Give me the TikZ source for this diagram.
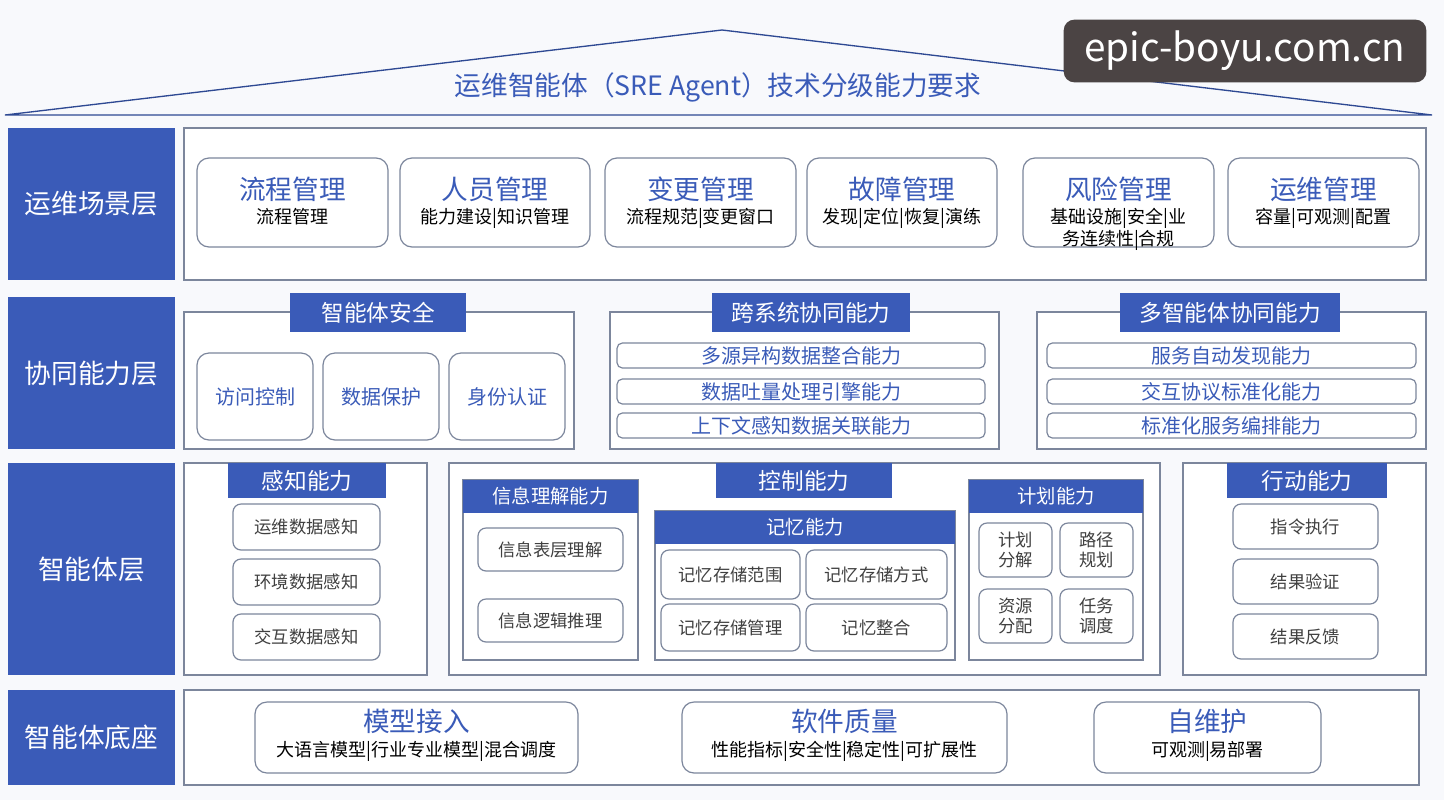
\documentclass[tikz,border=0pt]{standalone}
\usepackage{fontspec}
\setmainfont{Noto Sans CJK SC}
\usetikzlibrary{fit}
\definecolor{sreblue}{HTML}{3A5BB8}
\definecolor{sreline}{HTML}{7C869C}
\definecolor{srebg}{HTML}{F8F9FC}
\definecolor{srewm}{HTML}{4B4444}
\tikzset{layer/.style={fill=sreblue,draw=none,inner sep=0pt,text=white,font=\fontsize{20}{22}\selectfont}}
\tikzset{frame/.style={draw=sreline,line width=0.9pt,fill=white,inner sep=0pt}}
\tikzset{card/.style={draw=sreline,line width=0.9pt,fill=white,rounded corners=9pt,inner sep=0pt}}
\tikzset{pill/.style={draw=sreline,line width=0.9pt,fill=white,rounded corners=4pt,inner sep=0pt}}
\tikzset{tab/.style={fill=sreblue,draw=none,inner sep=0pt,text=white,font=\fontsize{17}{19}\selectfont}}
\tikzset{big/.style={font=\fontsize{20}{22}\selectfont,text=sreblue}}
\tikzset{small/.style={font=\fontsize{13.5}{16}\selectfont,align=center}}
\tikzset{mid/.style={font=\fontsize{15}{17}\selectfont,text=sreblue}}
\tikzset{item/.style={font=\fontsize{13}{15}\selectfont,text=black!75,align=center}}
\begin{document}
\begin{tikzpicture}[x=0.75pt,y=-0.75pt]
  \useasboundingbox[fill=srebg] (0,0) rectangle (1444,800);
  % roof and title
  \coordinate (roofl) at (5,115);
  \coordinate (rooft) at (722,30);
  \coordinate (roofr) at (1432,115);
  \draw[sreblue!80!black,line width=1pt] (roofl) -- (rooft) -- (roofr) -- cycle;
  \node[big,font=\fontsize{20}{22}\selectfont] (title) at (718,87) {运维智能体（SRE Agent）技术分级能力要求};
  \node[fill=srewm,rounded corners=8pt,inner sep=0pt,minimum width=272pt,minimum height=47pt,text=white,font=\fontsize{29}{31}\selectfont] (wm) at (1245,51) {epic-boyu.com.cn};
  % layer labels
  \node[layer,fit={(8,128)(175,280)}] (l1) {}; \node[text=white,font=\fontsize{20}{22}\selectfont] at (l1) {运维场景层};
  \node[layer,fit={(8,297)(175,449)}] (l2) {}; \node[text=white,font=\fontsize{20}{22}\selectfont] at (l2) {协同能力层};
  \node[layer,fit={(8,463)(175,675)}] (l3) {}; \node[text=white,font=\fontsize{20}{22}\selectfont] at (l3) {智能体层};
  \node[layer,fit={(8,690)(175,785)}] (l4) {}; \node[text=white,font=\fontsize{20}{22}\selectfont] at (l4) {智能体底座};
  % scene layer
  \node[frame,fit={(184,128)(1426,280)}] (scene) {};
  \foreach \xa/\xb/\ttl/\sub [count=\k] in {197/388/流程管理/流程管理, 400/590/人员管理/能力建设|知识管理,
      605/796/变更管理/流程规范|变更窗口, 807/997/故障管理/发现|定位|恢复|演练,
      1023/1214/风险管理/{基础设施|安全|业\\务连续性|合规}, 1228/1419/运维管理/容量|可观测|配置} {
    \node[card,fit={(\xa,158)(\xb,247)}] (s\k) {};
    \node[big,anchor=south] at ([yshift=-3pt]s\k.center) {\ttl};
    \node[small,anchor=north] at ([yshift=-1pt]s\k.center) {\sub};
  }
  % collaboration layer
  \node[frame,fit={(184,312)(574,449)}] (safe) {};
  \node[frame,fit={(610,312)(999,449)}] (cross) {};
  \node[frame,fit={(1037,312)(1426,449)}] (multi) {};
  \node[tab,fit={(290,293)(466,332)}] (tsafe) {}; \node[text=white,font=\fontsize{17}{19}\selectfont] at (tsafe) {智能体安全};
  \node[tab,fit={(712,293)(910,332)}] (tcross) {}; \node[text=white,font=\fontsize{17}{19}\selectfont] at (tcross) {跨系统协同能力};
  \node[tab,fit={(1120,293)(1340,332)}] (tmulti) {}; \node[text=white,font=\fontsize{17}{19}\selectfont] at (tmulti) {多智能体协同能力};
  \foreach \xa/\xb/\ttl [count=\k] in {197/313/访问控制, 323/439/数据保护, 449/565/身份认证} {
    \node[card,fit={(\xa,353)(\xb,440)}] (a\k) {};
    \node[mid] at (a\k) {\ttl};
  }
  \foreach \ya/\yb/\ttl [count=\k] in {343/368/多源异构数据整合能力, 379/404/数据吐量处理引擎能力, 413/438/上下文感知数据关联能力} {
    \node[pill,fit={(617,\ya)(985,\yb)}] (c\k) {};
    \node[mid] at (c\k) {\ttl};
  }
  \foreach \ya/\yb/\ttl [count=\k] in {343/368/服务自动发现能力, 379/404/交互协议标准化能力, 413/438/标准化服务编排能力} {
    \node[pill,fit={(1047,\ya)(1416,\yb)}] (m\k) {};
    \node[mid] at (m\k) {\ttl};
  }
  % agent layer
  \node[frame,fit={(184,463)(427,675)}] (sense) {};
  \node[frame,fit={(449,463)(1160,675)}] (ctrl) {};
  \node[frame,fit={(1183,463)(1426,675)}] (act) {};
  \node[tab,fit={(228,463)(386,498)}] (tsense) {}; \node[text=white,font=\fontsize{17}{19}\selectfont] at (tsense) {感知能力};
  \node[tab,fit={(716,463)(892,498)}] (tctrl) {}; \node[text=white,font=\fontsize{17}{19}\selectfont] at (tctrl) {控制能力};
  \node[tab,fit={(1227,463)(1387,498)}] (tact) {}; \node[text=white,font=\fontsize{17}{19}\selectfont] at (tact) {行动能力};
  \foreach \ya/\yb/\ttl [count=\k] in {504/550/运维数据感知, 559/605/环境数据感知, 614/660/交互数据感知} {
    \node[card,rounded corners=6pt,fit={(233,\ya)(380,\yb)}] (p\k) {};
    \node[item] at (p\k) {\ttl};
  }
  \foreach \ya/\yb/\ttl [count=\k] in {504/549/指令执行, 559/604/结果验证, 614/659/结果反馈} {
    \node[card,rounded corners=6pt,fit={(1233,\ya)(1378,\yb)}] (e\k) {};
    \node[item] at (e\k) {\ttl};
  }
  % info understanding
  \node[frame,fit={(463,480)(638,660)}] (info) {};
  \node[tab,fit={(463,480)(638,513)}] (tinfo) {}; \node[text=white,font=\fontsize{14.5}{16}\selectfont] at (tinfo) {信息理解能力};
  \node[card,rounded corners=6pt,fit={(478,528)(623,571)}] (i1) {}; \node[item] at (i1) {信息表层理解};
  \node[card,rounded corners=6pt,fit={(478,599)(623,642)}] (i2) {}; \node[item] at (i2) {信息逻辑推理};
  % memory
  \node[frame,fit={(655,511)(955,660)}] (mem) {};
  \node[tab,fit={(655,511)(955,544)}] (tmem) {}; \node[text=white,font=\fontsize{14.5}{16}\selectfont] at (tmem) {记忆能力};
  \foreach \xa/\ya/\xb/\yb/\ttl [count=\k] in {661/550/800/599/记忆存储范围, 806/550/947/599/记忆存储方式,
      661/604/800/651/记忆存储管理, 806/604/947/651/记忆整合} {
    \node[card,rounded corners=6pt,fit={(\xa,\ya)(\xb,\yb)}] (r\k) {};
    \node[item] at (r\k) {\ttl};
  }
  % plan
  \node[frame,fit={(969,480)(1143,660)}] (plan) {};
  \node[tab,fit={(969,480)(1143,513)}] (tplan) {}; \node[text=white,font=\fontsize{14.5}{16}\selectfont] at (tplan) {计划能力};
  \foreach \xa/\ya/\xb/\yb/\ttl [count=\k] in {979/523/1052/577/计划\\分解, 1060/523/1133/577/路径\\规划,
      979/589/1052/643/资源\\分配, 1060/589/1133/643/任务\\调度} {
    \node[card,rounded corners=6pt,fit={(\xa,\ya)(\xb,\yb)}] (q\k) {};
    \node[item,font=\fontsize{13}{15}\selectfont] at (q\k) {\ttl};
  }
  % base layer
  \node[frame,fit={(184,690)(1419,785)}] (base) {};
  \foreach \xa/\xb/\ttl/\sub [count=\k] in {255/578/模型接入/大语言模型|行业专业模型|混合调度,
      682/1007/软件质量/性能指标|安全性|稳定性|可扩展性, 1094/1321/自维护/可观测|易部署} {
    \node[card,fit={(\xa,702)(\xb,773)}] (b\k) {};
    \node[big,anchor=south] at ([yshift=-1pt]b\k.center) {\ttl};
    \node[small,anchor=north] at ([yshift=1pt]b\k.center) {\sub};
  }
\end{tikzpicture}
\end{document}
